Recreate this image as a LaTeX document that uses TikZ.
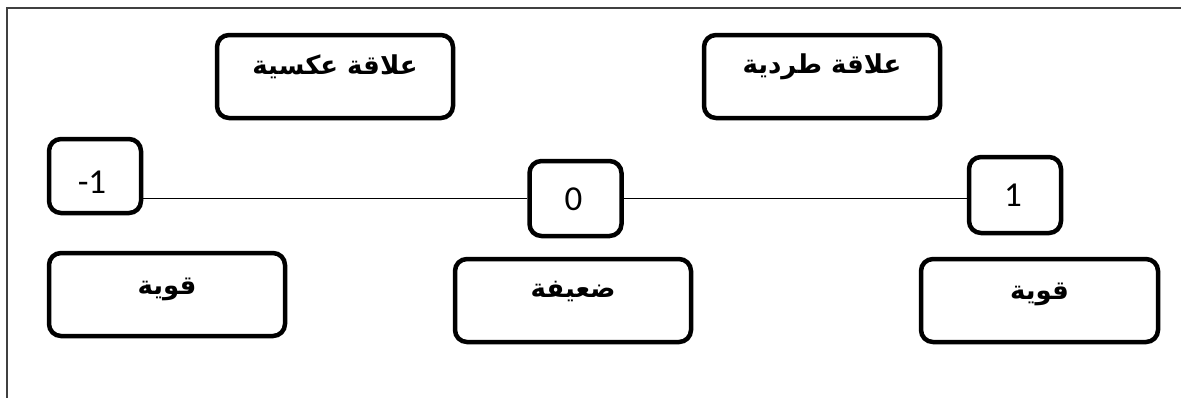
\documentclass[tikz,border=0pt]{standalone}
\usepackage{fontspec}
\setmainfont{Carlito}
\newfontfamily\arabicfont[Script=Arabic]{DejaVu Sans}
\TeXXeTstate=1
\begin{document}
\begin{tikzpicture}[x=1pt,y=-1pt,
  box/.style={draw=black, line width=4.5pt, rounded corners=12pt, inner sep=0pt, shape=rectangle},
  wide/.style={box, minimum width=236pt, minimum height=83pt},
  numbox/.style={box, minimum width=92pt, minimum height=75pt},
  ntext/.style={font=\fontsize{35}{38}\selectfont},
  atext/.style={font=\arabicfont\bfseries\fontsize{26}{30}\selectfont},
  link/.style={draw=black, line width=1.5pt}]
\useasboundingbox (0,0) rectangle (1181,397);
\begin{scope}
\clip (0,0) rectangle (1181,397);
\draw[line width=2.2pt, black!75] (7,420) -- (7,8) -- (1200,8);
\end{scope}
% top boxes
\node[wide, label={[atext, yshift=10pt]center:\beginR علاقة عكسية\endR}] (inv) at (335,76.5) {};
\node[wide, label={[atext, yshift=10pt]center:\beginR علاقة طردية\endR}] (dir) at (822,76.5) {};
% number boxes
\node[numbox, minimum height=74pt, label={[ntext, yshift=-6pt, xshift=-3pt]center:-1}] (m1) at (95,176) {};
\node[numbox, label={[ntext, yshift=-1pt, xshift=-2pt]center:0}] (z) at (575.5,198.5) {};
\node[numbox, minimum height=76pt, label={[ntext, xshift=-2pt]center:1}] (p1) at (1015,195) {};
% connectors
\draw[link] (m1.east |- z.west) -- (z.west);
\draw[link] (z.east) -- (p1.west |- z.east);
% bottom boxes
\node[wide, label={[atext, yshift=5pt]center:\beginR قوية\endR}] (sL) at (167,294.5) {};
\node[wide, label={[atext, yshift=9pt]center:\beginR ضعيفة\endR}] (wk) at (573,300.5) {};
\node[wide, minimum width=237pt, label={[atext, yshift=6pt]center:\beginR قوية\endR}] (sR) at (1039.5,300.5) {};
\end{tikzpicture}
\end{document}
